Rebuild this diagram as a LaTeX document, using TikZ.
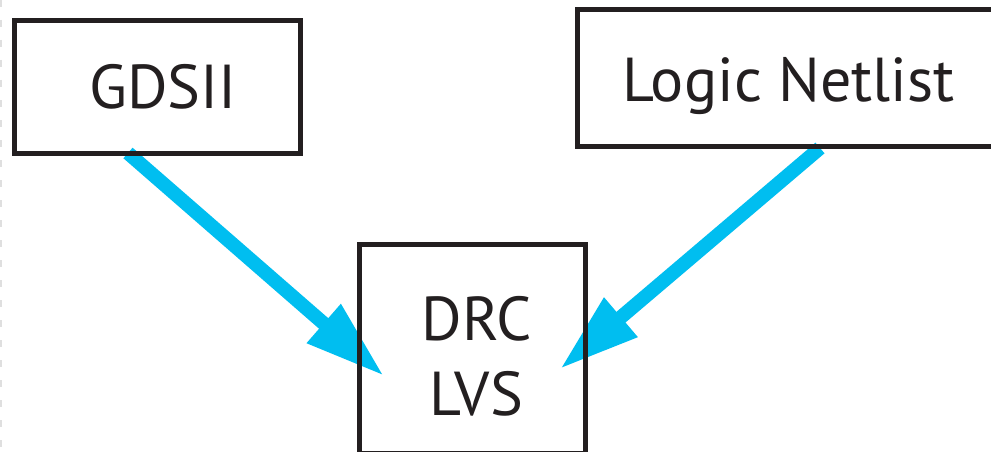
\documentclass[tikz,border=0pt]{standalone}
\usepackage{fontspec}
\newfontfamily\labfont{PT Sans}
\usetikzlibrary{arrows.meta}
\definecolor{arrowcyan}{RGB}{0,190,240}
\definecolor{boxline}{RGB}{35,31,32}
\tikzset{
  box/.style={draw=boxline, line width=5pt, inner sep=0pt, rectangle},
  lab/.style={anchor=base, inner sep=0pt, text=boxline, font=\labfont\fontsize{62}{62}\selectfont},
  arr/.style={draw=arrowcyan, line width=14pt, -{Triangle[length=80pt,width=48pt]}},
}
\begin{document}
\begin{tikzpicture}[x=1pt,y=-1pt]
\useasboundingbox (0,0) rectangle (991,452);
\clip (0,0) rectangle (991,452);
\fill[white] (0,0) rectangle (991,452);
\draw[gray!25, line width=1.5pt, dash pattern=on 7pt off 13pt] (1,0) -- (1,452);
% arrows (under the boxes)
\coordinate (a1s) at (128,153);
\coordinate (a1e) at (384,376);
\coordinate (a2s) at (820,148);
\coordinate (a2e) at (560,369);
\draw[arr] (a1s) -- (a1e);
\draw[arr] (a2s) -- (a2e);
% boxes
\node[box, minimum width=286.5pt, minimum height=132.5pt] (gds) at (157.25,87.25) {};
\node[box, minimum width=432.5pt, minimum height=137pt] (net) at (793.75,78) {};
\node[box, minimum width=226pt, minimum height=208.5pt] (drc) at (472.5,348.75) {};
% labels
\node[lab] (gdst) at (163,108) {GDSII};
\node[lab] (nett) at (788.5,102) {Logic Netlist};
\node[lab] (drct) at (477,340) {DRC};
\node[lab] (lvst) at (476,415) {LVS};
\end{tikzpicture}
\end{document}
